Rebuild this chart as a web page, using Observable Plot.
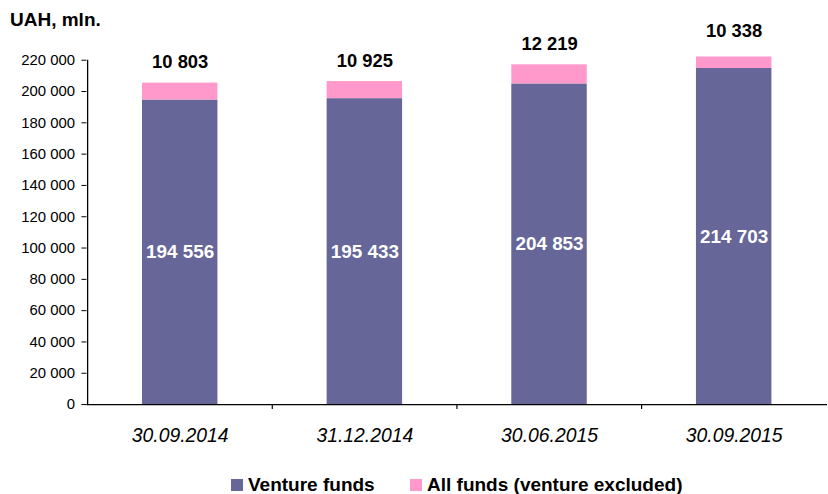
<!DOCTYPE html>
<html><head><meta charset="utf-8">
<script src="https://cdn.jsdelivr.net/npm/d3@7"></script>
<script src="https://cdn.jsdelivr.net/npm/@observablehq/plot@0.6"></script>
<style>
html,body{margin:0;padding:0;background:#fff}
body{font-family:"Liberation Sans",Arial,sans-serif;overflow:hidden;width:828px;height:494px;position:relative;color:#000}
#title{position:absolute;left:10px;top:10px;font-weight:bold;font-size:19px;line-height:20px}
#chart{position:absolute;left:0;top:0}
.lg{position:absolute;top:476px;height:17px;display:flex;align-items:center;font-weight:bold;font-size:19px;line-height:17px;white-space:nowrap}
.sw{width:12px;height:12px;margin-right:5px}
</style></head>
<body>
<div id="title">UAH, mln.</div>
<div id="chart"></div>
<div id="legend"></div>
<script>
const dates = ["30.09.2014", "31.12.2014", "30.06.2015", "30.09.2015"];
const venture = [194556, 195433, 204853, 214703];
const others = [10803, 10925, 12219, 10338];
const seriesNames = ["Venture funds", "All funds (venture excluded)"];
const seriesColors = ["#666699", "#FF99CC"];
const yTicks = [0, 20000, 40000, 60000, 80000, 100000, 120000, 140000, 160000, 180000, 200000, 220000];

const rows = [];
dates.forEach((d, i) => {
  rows.push({date: d, series: seriesNames[0], value: venture[i]});
  rows.push({date: d, series: seriesNames[1], value: others[i]});
});
const totals = dates.map((d, i) => ({date: d, total: venture[i] + others[i], label: others[i]}));
const mids = dates.map((d, i) => ({date: d, mid: venture[i] / 2, label: venture[i]}));

const fmt = v => d3.format(",")(v).replace(/,/g, " ");

const W = 834, ML = 87, MR = 1;
const step = (W - ML - MR) / dates.length;

const chart = Plot.plot({
  width: W,
  height: 460,
  marginLeft: ML,
  marginRight: MR,
  marginTop: 57,
  marginBottom: 53,
  style: {fontFamily: '"Liberation Sans", Arial, sans-serif', background: "transparent", overflow: "visible"},
  x: {domain: dates, paddingInner: 0.593, paddingOuter: 0.2965},
  y: {domain: [0, 222000]},
  color: {domain: seriesNames, range: seriesColors},
  marks: [
    Plot.barY(rows, {x: "date", y: "value", fill: "series", clip: true}),
    Plot.ruleY([0], {stroke: "#000", strokeWidth: 1.3}),
    Plot.ruleX([dates[0]], {y1: 0, y2: 220000, dx: -step / 2, stroke: "#000", strokeWidth: 1.3}),
    Plot.ruleX(dates.slice(1), {y1: 0, y2: 0, insetBottom: -5, dx: -step / 2, stroke: "#000", strokeWidth: 1.2}),
    Plot.axisY({ticks: yTicks, tickFormat: fmt, tickSize: 5, tickPadding: 7, fontSize: 15, label: null, stroke: "#000", color: "#000"}),
    Plot.axisX({tickSize: 0, tickPadding: 24, fontSize: 19.5, fontStyle: "italic", label: null, color: "#000"}),
    Plot.text(totals, {x: "date", y: "total", text: d => fmt(d.label), dy: -21, fontSize: 18.5, fontWeight: "bold", fill: "#000"}),
    Plot.text(mids, {x: "date", y: "mid", text: d => fmt(d.label), fontSize: 19, fontWeight: "bold", fill: "#fff"})
  ]
});
document.getElementById("chart").appendChild(chart);

const legend = document.getElementById("legend");
const lgLeft = [231, 410];
seriesNames.forEach((name, i) => {
  const it = document.createElement("div");
  it.className = "lg";
  it.style.left = lgLeft[i] + "px";
  const sw = document.createElement("div");
  sw.className = "sw";
  sw.style.background = seriesColors[i];
  const tx = document.createElement("span");
  tx.textContent = name;
  it.appendChild(sw); it.appendChild(tx);
  legend.appendChild(it);
});
</script>
</body></html>
